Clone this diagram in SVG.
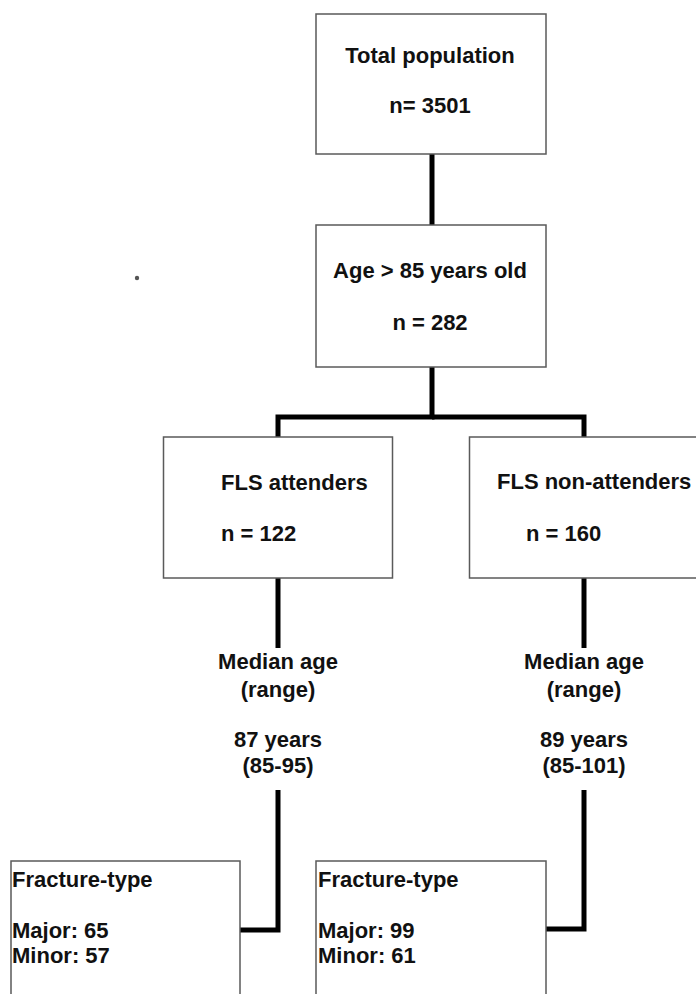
<svg xmlns="http://www.w3.org/2000/svg" width="696" height="994" viewBox="0 0 696 994">
<style>
.box{fill:#fff;stroke:#5a5a5a;stroke-width:1.5}
.t{font-family:"Liberation Sans",Arial,sans-serif;font-weight:bold;font-size:22px;fill:#111}
.c{text-anchor:middle}
.conn{fill:none;stroke:#000;stroke-width:5;stroke-linejoin:miter;stroke-linecap:butt}
</style>
<rect width="696" height="994" fill="#fff"/>
<circle cx="137" cy="278" r="2.2" fill="#555"/>
<g id="connectors">
<path class="conn" d="M432 154V225"/>
<path class="conn" d="M432 367V417H278V437"/>
<path class="conn" d="M432 417H584V437"/>
<path class="conn" d="M278 578V648"/>
<path class="conn" d="M584 578V648"/>
<path class="conn" d="M278 790V930H240"/>
<path class="conn" d="M584 790V929H546"/>
</g>
<g id="total">
<rect class="box" x="316" y="14" width="230" height="140"/>
<text class="t c" x="430" y="63">Total population</text>
<text class="t c" x="430" y="113">n= 3501</text>
</g>
<g id="age85">
<rect class="box" x="316" y="225" width="230" height="142"/>
<text class="t c" x="430" y="278">Age &gt; 85 years old</text>
<text class="t c" x="430" y="330">n = 282</text>
</g>
<g id="attenders">
<rect class="box" x="163.5" y="437" width="229" height="141"/>
<text class="t" x="221" y="490">FLS attenders</text>
<text class="t" x="221" y="541">n = 122</text>
</g>
<g id="nonattenders">
<rect class="box" x="469.5" y="437" width="240" height="141"/>
<text class="t" x="497" y="489">FLS non-attenders</text>
<text class="t" x="526" y="541">n = 160</text>
</g>
<g id="median-left">
<text class="t c" x="278" y="669">Median age</text>
<text class="t c" x="278" y="697">(range)</text>
<text class="t c" x="278" y="747">87 years</text>
<text class="t c" x="278" y="773">(85-95)</text>
</g>
<g id="median-right">
<text class="t c" x="584" y="669">Median age</text>
<text class="t c" x="584" y="697">(range)</text>
<text class="t c" x="584" y="747">89 years</text>
<text class="t c" x="584" y="773">(85-101)</text>
</g>
<g id="fracture-left">
<rect class="box" x="11" y="861" width="229" height="140"/>
<text class="t" x="12" y="887">Fracture-type</text>
<text class="t" x="12" y="938">Major: 65</text>
<text class="t" x="12" y="963">Minor: 57</text>
</g>
<g id="fracture-right">
<rect class="box" x="316" y="861" width="230" height="140"/>
<text class="t" x="318" y="887">Fracture-type</text>
<text class="t" x="318" y="938">Major: 99</text>
<text class="t" x="318" y="963">Minor: 61</text>
</g>
</svg>
